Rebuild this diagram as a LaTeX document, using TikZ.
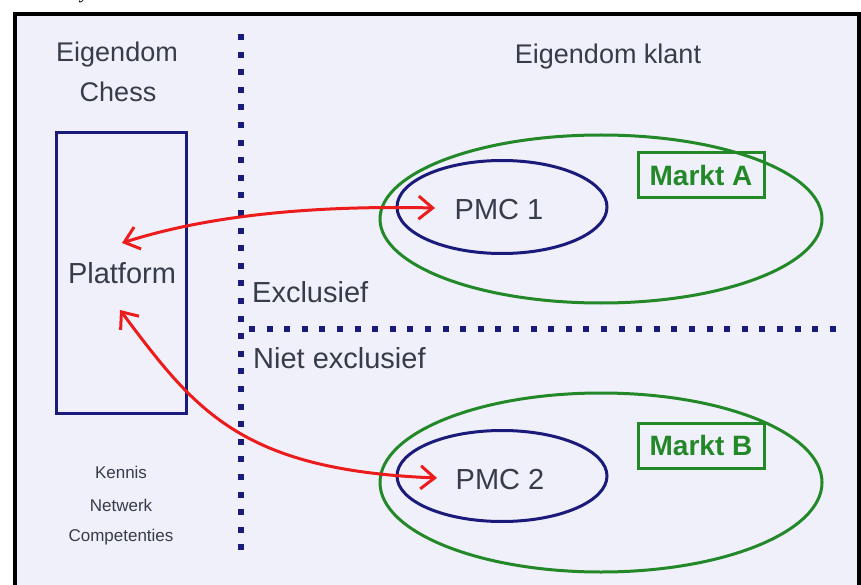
\documentclass[tikz,border=0pt]{standalone}
\usepackage{fontspec}
\setmainfont{Liberation Sans}
\newfontfamily\capfont{Liberation Serif}
\usetikzlibrary{shapes.geometric,arrows.meta}
\definecolor{bgc}{RGB}{240,240,250}
\definecolor{navy}{RGB}{26,26,122}
\definecolor{grn}{RGB}{34,136,40}
\definecolor{redc}{RGB}{236,28,28}
\definecolor{txt}{RGB}{54,60,74}
\tikzset{
  big/.style={text=txt,font=\fontsize{27}{32}\selectfont,inner sep=0pt,anchor=base},
  mid/.style={text=txt,font=\fontsize{29}{34}\selectfont,inner sep=0pt,anchor=base},
  small/.style={text=txt,font=\fontsize{17}{20}\selectfont,inner sep=0pt,anchor=base},
  markt/.style={draw=grn,line width=3pt,text=grn,font=\bfseries\fontsize{28}{32}\selectfont,minimum width=126pt,minimum height=45pt,inner sep=0pt},
  mkt/.style={draw=grn,line width=3pt,ellipse,minimum width=442pt,inner sep=0pt},
  pmc/.style={draw=navy,line width=3pt,ellipse,minimum width=210pt,inner sep=0pt},
  dotline/.style={draw=navy,line width=6pt,dash pattern=on 6pt off 11.6pt},
  link/.style={draw=redc,line width=3pt,{Straight Barb[length=14pt,width=23pt,line width=3pt]}-{Straight Barb[length=14pt,width=23pt,line width=3pt]}}
}
\begin{document}
\begin{tikzpicture}[x=1pt,y=-1pt]
\useasboundingbox (0,0) rectangle (861,585);
% frame and background
\draw[line width=4pt,fill=bgc] (15,14) rectangle (858.5,600);
\node[font=\capfont\itshape\fontsize{20}{24}\selectfont,anchor=base,inner sep=0pt] (capy) at (85,-1) {y};
% dotted separators
\draw[dotline] (241,34) -- (241,551);
\draw[dotline] (249,329) -- (836,329);
% left side
\node[big] (eig1) at (117,62) {Eigendom};
\node[big] (eig2) at (118,102) {Chess};
\node[draw=navy,line width=3pt,minimum width=130pt,minimum height=280pt,inner sep=0pt] (plat) at (121,273) {};
\node[mid] (platt) at (122,283) {Platform};
\node[small] (k1) at (121,478) {Kennis};
\node[small] (k2) at (121,511) {Netwerk};
\node[small] (k3) at (121,541) {Competenties};
% right side
\node[big] (eigk) at (608,64) {Eigendom klant};
\node[mid,anchor=base west] (excl) at (252,302) {Exclusief};
\node[mid,anchor=base west] (nexcl) at (253,368) {Niet exclusief};
\node[mkt,minimum height=168pt] (mA) at (601,219) {};
\node[mkt,minimum height=179pt] (mB) at (601,482.5) {};
\node[pmc,minimum height=93pt] (p1) at (502,207) {};
\node[pmc,minimum height=91pt] (p2) at (502,476) {};
\node[mid] (p1t) at (499,220) {PMC 1};
\node[mid] (p2t) at (500,489) {PMC 2};
\node[markt] (ma) at (701,175.5) {Markt A};
\node[markt] (mb) at (701,445.5) {Markt B};
% arrows
\coordinate (a1s) at (122,243);
\coordinate (a1e) at (435,208);
\coordinate (a2s) at (120,310);
\coordinate (a2e) at (437,478);
\draw[link] (a1s) .. controls (200,218) and (300,205) .. (a1e);
\draw[link] (a2s) .. controls (195,410) and (240,470) .. (a2e);
\end{tikzpicture}
\end{document}
